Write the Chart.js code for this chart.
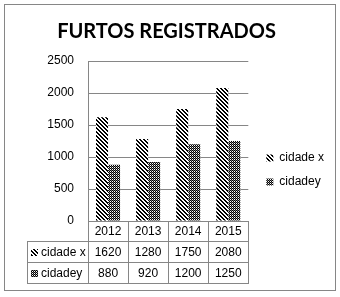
<!DOCTYPE html>
<html>
<head>
<meta charset="utf-8">
<script src="https://cdn.jsdelivr.net/npm/chart.js@4"></script>
<style>
  html, body { margin: 0; padding: 0; background: #fff; }
</style>
</head>
<body>
<canvas id="chart" width="340" height="297"></canvas>
<script>
const years = ["2012", "2013", "2014", "2015"];
const seriesNames = ["cidade x", "cidadey"];
const cidadeX = [1620, 1280, 1750, 2080];
const cidadeY = [880, 920, 1200, 1250];
const yTicks = [0, 500, 1000, 1500, 2000, 2500];

const FONT = "'Liberation Sans', Arial, sans-serif";
const LINE = "#868686";

// 4x4 pixel tiles, like the old Excel fill patterns
function makePattern(kind) {
  const c = document.createElement("canvas");
  c.width = 4;
  c.height = 4;
  const g = c.getContext("2d");
  g.fillStyle = "#fff";
  g.fillRect(0, 0, 4, 4);
  for (let y = 0; y < 4; y++) {
    for (let x = 0; x < 4; x++) {
      let col = null;
      if (kind === "stripe") {
        if (((x - y) % 4 + 4) % 4 < 2) col = "#000";
      } else {
        if ((x + y) % 2 === 0) col = "#000";
        else if (x % 2 === 0) col = "#fff";
        else col = "#777";
      }
      if (col) {
        g.fillStyle = col;
        g.fillRect(x, y, 1, 1);
      }
    }
  }
  return g.createPattern(c, "repeat");
}

const patX = makePattern("stripe");
const patY = makePattern("checker");
const patterns = [patX, patY];
const seriesValues = [cidadeX, cidadeY];

const line = (ctx, x1, y1, x2, y2) => {
  ctx.beginPath();
  ctx.moveTo(x1, y1);
  ctx.lineTo(x2, y2);
  ctx.stroke();
};

const frame = {
  id: "frame",
  // legend sits a bit away from the plot in the original
  afterLayout(chart) {
    const lg = chart.legend;
    if (!lg) return;
    lg.left += 6;
    lg.right += 6;
    lg.top += 26;
    lg.bottom += 26;
  },
  beforeDraw(chart) {
    const { ctx, width, height } = chart;
    ctx.save();
    ctx.fillStyle = "#fff";
    ctx.fillRect(0, 0, width, height);
    ctx.restore();
  },
  afterDraw(chart) {
    const ctx = chart.ctx;
    ctx.save();
    ctx.strokeStyle = LINE;
    ctx.lineWidth = 1;
    ctx.strokeRect(4.5, 4.5, 331, 286);
    ctx.restore();
  }
};

// data table under the plot, columns follow the category scale
const dataTable = {
  id: "dataTable",
  afterDraw(chart) {
    const { ctx, chartArea } = chart;
    const x = chart.scales.x;
    const step = x.getPixelForValue(1) - x.getPixelForValue(0);
    const first = x.getPixelForValue(0) - step / 2;
    const top = Math.round(chartArea.bottom);
    const rows = [top, top + 20, top + 41, top + 62];
    const left = 27;
    const right = Math.round(chartArea.right);

    ctx.save();
    ctx.strokeStyle = LINE;
    ctx.lineWidth = 1;
    for (let r = 1; r < rows.length; r++) {
      line(ctx, left, rows[r] + 0.5, right + 1, rows[r] + 0.5);
    }
    line(ctx, left + 0.5, rows[1], left + 0.5, rows[3] + 1);
    for (let i = 0; i <= years.length; i++) {
      const xb = Math.round(first + i * step) + 0.5;
      line(ctx, xb, top, xb, rows[3] + 1);
    }

    ctx.fillStyle = "#000";
    ctx.font = "12px " + FONT;
    ctx.textBaseline = "middle";
    ctx.textAlign = "center";
    years.forEach((yr, i) => {
      const cx = x.getPixelForValue(i);
      ctx.fillText(yr, cx, (rows[0] + rows[1]) / 2 + 1);
      seriesValues.forEach((vals, s) => {
        ctx.fillText(String(vals[i]), cx, (rows[s + 1] + rows[s + 2]) / 2 + 1);
      });
    });

    ctx.textAlign = "left";
    seriesNames.forEach((name, s) => {
      const cy = (rows[s + 1] + rows[s + 2]) / 2;
      ctx.fillStyle = patterns[s];
      ctx.fillRect(31, Math.round(cy) - 3, 7, 7);
      ctx.fillStyle = "#000";
      ctx.fillText(name, 41, cy + 1);
    });
    ctx.restore();
  }
};

new Chart(document.getElementById("chart"), {
  type: "bar",
  data: {
    labels: years,
    datasets: [
      {
        label: seriesNames[0],
        data: cidadeX,
        backgroundColor: patX,
        borderWidth: 0
      },
      {
        label: seriesNames[1],
        data: cidadeY,
        backgroundColor: patY,
        borderWidth: 0
      }
    ]
  },
  options: {
    responsive: false,
    devicePixelRatio: 1,
    animation: false,
    layout: {
      padding: { left: 5, right: 12, top: 5, bottom: 14 }
    },
    datasets: {
      bar: {
        categoryPercentage: 0.6,
        barPercentage: 1
      }
    },
    plugins: {
      title: {
        display: true,
        text: "FURTOS REGISTRADOS",
        color: "#000",
        font: { family: "Lato, " + FONT, size: 20, weight: "bold" },
        padding: { top: 15, bottom: 17 }
      },
      legend: {
        position: "right",
        align: "center",
        labels: {
          color: "#000",
          font: { family: FONT, size: 12 },
          boxWidth: 7,
          boxHeight: 7,
          padding: 12
        }
      },
      tooltip: { enabled: false }
    },
    scales: {
      x: {
        type: "category",
        offset: true,
        ticks: { display: false },
        grid: { display: false },
        border: { display: false },
        afterFit: (s) => { s.height = 62; }
      },
      y: {
        min: 0,
        max: 2500,
        afterBuildTicks: (s) => { s.ticks = yTicks.map((v) => ({ value: v })); },
        ticks: {
          color: "#000",
          font: { family: FONT, size: 12 },
          padding: 14,
          callback: (v) => String(v)
        },
        grid: { color: LINE, drawTicks: false },
        border: { display: true, color: LINE },
        afterFit: (s) => { s.width = 83; }
      }
    }
  },
  plugins: [frame, dataTable]
});
</script>
</body>
</html>
